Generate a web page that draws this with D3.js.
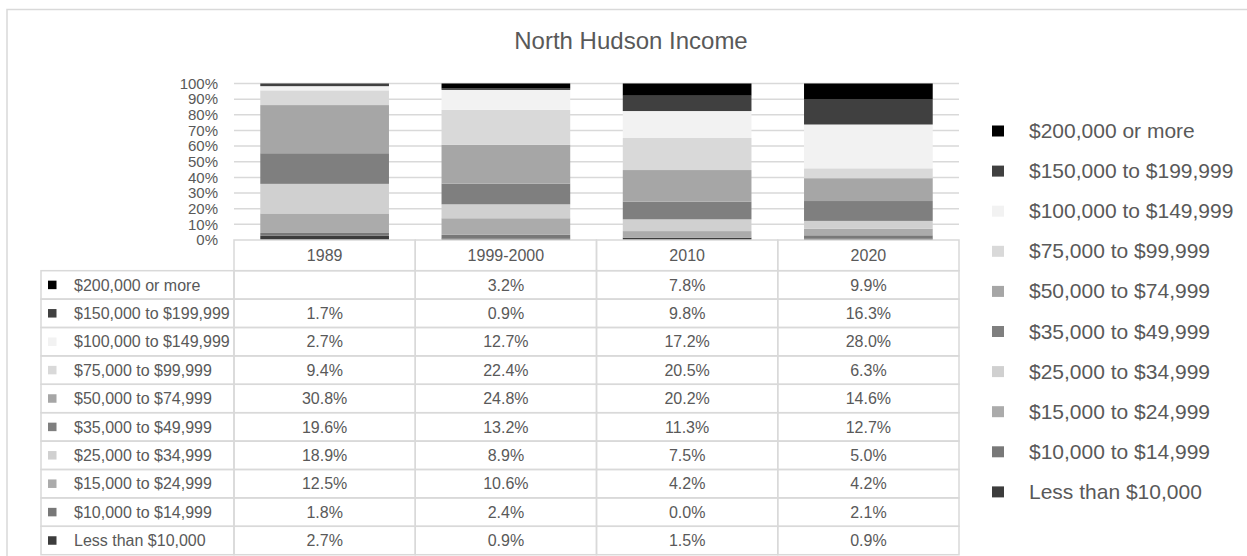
<!DOCTYPE html>
<html>
<head>
<meta charset="utf-8">
<script src="https://cdn.jsdelivr.net/npm/d3@7"></script>
<style>
  html, body { margin: 0; padding: 0; background: #fff; }
  svg { display: block; font-family: "Liberation Sans", Arial, sans-serif; }
</style>
</head>
<body>
<svg id="chart" width="1247" height="556"></svg>
<script>
// ---- data ----
const title = "North Hudson Income";
const categories = ["1989", "1999-2000", "2010", "2020"];
const seriesNames = [
  "$200,000 or more",
  "$150,000 to $199,999",
  "$100,000 to $149,999",
  "$75,000 to $99,999",
  "$50,000 to $74,999",
  "$35,000 to $49,999",
  "$25,000 to $34,999",
  "$15,000 to $24,999",
  "$10,000 to $14,999",
  "Less than $10,000"
];
const v200k = [null, 3.2, 7.8, 9.9];
const v150k = [1.7, 0.9, 9.8, 16.3];
const v100k = [2.7, 12.7, 17.2, 28.0];
const v75k  = [9.4, 22.4, 20.5, 6.3];
const v50k  = [30.8, 24.8, 20.2, 14.6];
const v35k  = [19.6, 13.2, 11.3, 12.7];
const v25k  = [18.9, 8.9, 7.5, 5.0];
const v15k  = [12.5, 10.6, 4.2, 4.2];
const v10k  = [1.8, 2.4, 0.0, 2.1];
const vLess = [2.7, 0.9, 1.5, 0.9];
const seriesValues = [v200k, v150k, v100k, v75k, v50k, v35k, v25k, v15k, v10k, vLess];
const seriesColors = ["#000000", "#404040", "#f2f2f2", "#d9d9d9", "#a6a6a6",
                      "#7f7f7f", "#d0d0d0", "#ababab", "#787878", "#3c3c3c"];
const yTicks = [0, 0.1, 0.2, 0.3, 0.4, 0.5, 0.6, 0.7, 0.8, 0.9, 1.0];

// ---- layout ----
const textColor = "#595959";
const lineColor = "#d9d9d9";
const svg = d3.select("#chart");

const plotLeft = 234, plotRight = 959, plotTop = 83.5, plotBottom = 240;

// outer border (extends past right/bottom edges like the reference)
svg.append("rect").attr("x", 7).attr("y", 9.5).attr("width", 1300).attr("height", 600)
  .attr("fill", "none").attr("stroke", lineColor).attr("stroke-width", 1.5);

svg.append("text").attr("x", 631).attr("y", 49).attr("text-anchor", "middle")
  .attr("font-size", 24).attr("fill", textColor).text(title);

const x = d3.scaleBand().domain(categories).range([plotLeft, plotRight])
  .paddingInner(0.29).paddingOuter(0.145);
const y = d3.scaleLinear().domain([0, 1]).range([plotBottom, plotTop]);

// gridlines
svg.append("g").selectAll("line").data(yTicks.filter(t => t > 0)).join("line")
  .attr("x1", plotLeft).attr("x2", plotRight)
  .attr("y1", d => y(d)).attr("y2", d => y(d))
  .attr("stroke", lineColor).attr("stroke-width", 1.5);

// y axis labels
const yAxis = d3.axisLeft(y).tickValues(yTicks).tickFormat(d3.format(".0%")).tickSize(0).tickPadding(0);
const yg = svg.append("g").attr("transform", `translate(218,0)`).call(yAxis);
yg.select(".domain").remove();
yg.selectAll("text").attr("font-size", 15).attr("fill", textColor)
  .attr("font-family", "'Liberation Sans', Arial, sans-serif");

// stacked bars (100% stacked)
const keys = seriesNames.slice().reverse(); // bottom first
const rows = categories.map((c, i) => {
  const o = { category: c };
  seriesNames.forEach((s, j) => { o[s] = seriesValues[j][i] == null ? 0 : seriesValues[j][i]; });
  return o;
});
const stack = d3.stack().keys(keys).offset(d3.stackOffsetExpand);
const stacked = stack(rows);
const color = d3.scaleOrdinal().domain(seriesNames).range(seriesColors);

svg.append("g").selectAll("g").data(stacked).join("g")
  .attr("fill", d => color(d.key))
  .selectAll("rect").data(d => d).join("rect")
  .attr("x", d => x(d.data.category))
  .attr("width", x.bandwidth())
  .attr("y", d => y(d[1]))
  .attr("height", d => Math.max(0, y(d[0]) - y(d[1])));

// ---- data table ----
const headerTop = 240, headerH = 30.7, rowH = 28.4;
const tableLeft = 41;
const colStep = x.step();
const tbl = svg.append("g");

// header cells
tbl.selectAll("rect.hdr").data(categories).join("rect").attr("class", "hdr")
  .attr("x", (d, i) => plotLeft + i * colStep).attr("y", headerTop)
  .attr("width", colStep).attr("height", headerH)
  .attr("fill", "none").attr("stroke", lineColor).attr("stroke-width", 1.5);
tbl.selectAll("text.hdr").data(categories).join("text").attr("class", "hdr")
  .attr("x", d => x(d) + x.bandwidth() / 2).attr("y", headerTop + headerH / 2)
  .attr("dy", "0.36em").attr("text-anchor", "middle")
  .attr("font-size", 16).attr("fill", textColor).text(d => d);

seriesNames.forEach((s, r) => {
  const top = headerTop + headerH + r * rowH;
  tbl.append("rect").attr("x", tableLeft).attr("y", top)
    .attr("width", plotLeft - tableLeft).attr("height", rowH)
    .attr("fill", "none").attr("stroke", lineColor).attr("stroke-width", 1.5);
  tbl.append("rect").attr("x", 48).attr("y", top + rowH / 2 - 4.25)
    .attr("width", 8.5).attr("height", 8.5).attr("fill", color(s));
  tbl.append("text").attr("x", 74).attr("y", top + rowH / 2).attr("dy", "0.36em")
    .attr("font-size", 16).attr("fill", textColor).text(s);
  categories.forEach((c, i) => {
    tbl.append("rect").attr("x", plotLeft + i * colStep).attr("y", top)
      .attr("width", colStep).attr("height", rowH)
      .attr("fill", "none").attr("stroke", lineColor).attr("stroke-width", 1.5);
    const v = seriesValues[r][i];
    tbl.append("text").attr("x", x(c) + x.bandwidth() / 2).attr("y", top + rowH / 2)
      .attr("dy", "0.36em").attr("text-anchor", "middle")
      .attr("font-size", 16).attr("fill", textColor)
      .text(v == null ? "" : v.toFixed(1) + "%");
  });
});

// ---- legend ----
const lg = svg.append("g");
seriesNames.forEach((s, i) => {
  const cy = 130.5 + i * 40.1;
  lg.append("rect").attr("x", 992).attr("y", cy - 5).attr("width", 12).attr("height", 11)
    .attr("fill", color(s));
  lg.append("text").attr("x", 1029).attr("y", cy).attr("dy", "0.36em")
    .attr("font-size", 21).attr("fill", textColor).text(s);
});
</script>
</body>
</html>
